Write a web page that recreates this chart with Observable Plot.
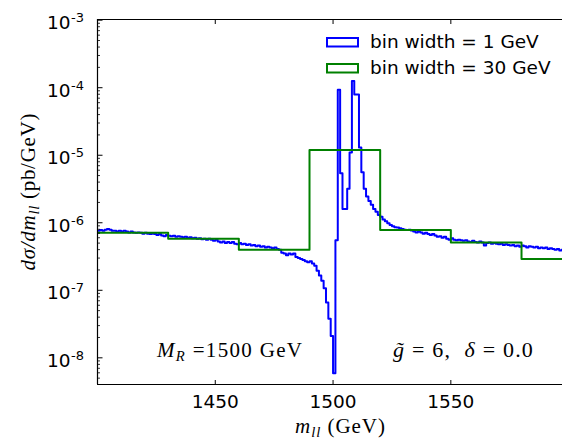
<!DOCTYPE html>
<html><head><meta charset="utf-8">
<script src="https://cdn.jsdelivr.net/npm/d3@7"></script>
<script src="https://cdn.jsdelivr.net/npm/@observablehq/plot@0.6"></script>
<style>html,body{margin:0;padding:0;background:#fff;}</style>
</head><body><div id="chart"></div>
<script>
// ---- data ----
const fineStart = 1400;      // first edge of the 1 GeV bins
const fineWidth = 1;
const fineValues = [
 7.6e-7,7.8e-7,7.6e-7,7.9e-7,8.1e-7,7.9e-7,7.6e-7,7.6e-7,7.4e-7,7.6e-7,
 7.4e-7,7.6e-7,7.4e-7,7.2e-7,7.4e-7,7.2e-7,7.1e-7,7.2e-7,7.1e-7,6.9e-7,
 7.1e-7,6.9e-7,6.8e-7,6.9e-7,6.8e-7,6.6e-7,6.8e-7,6.5e-7,6.3e-7,6.6e-7,
 6.4e-7,6.3e-7,6.4e-7,6.2e-7,6.3e-7,6.2e-7,6.1e-7,6.2e-7,6.0e-7,6.1e-7,
 5.9e-7,6.0e-7,5.8e-7,5.9e-7,5.7e-7,5.8e-7,5.6e-7,5.8e-7,5.6e-7,5.4e-7,
 5.6e-7,5.3e-7,5.1e-7,5.3e-7,5.0e-7,5.2e-7,5.0e-7,5.2e-7,4.9e-7,4.8e-7,
 5.0e-7,4.8e-7,4.9e-7,4.7e-7,4.8e-7,4.6e-7,4.7e-7,4.5e-7,4.6e-7,4.4e-7,
 4.5e-7,4.3e-7,4.4e-7,4.3e-7,4.2e-7,4.3e-7,4.1e-7,4.0e-7,3.6e-7,3.5e-7,
 3.3e-7,3.5e-7,3.4e-7,3.5e-7,3.1e-7,3.0e-7,2.9e-7,2.8e-7,2.7e-7,2.6e-7,
 2.7e-7,2.5e-7,2.3e-7,1.95e-7,1.65e-7,1.38e-7,1.07e-7,6.6e-8,3.8e-8,2.1e-8,
 5.9e-9,5.5e-7,9.3e-5,5.4e-6,1.6e-6,1.6e-6,3.2e-6,1.1e-5,1.26e-4,7.9e-5,
 7.9e-5,1.3e-5,5.6e-6,3.2e-6,2.45e-6,2.1e-6,1.85e-6,1.6e-6,1.45e-6,1.3e-6,
 1.23e-6,1.12e-6,1.05e-6,9.8e-7,9.3e-7,8.9e-7,8.6e-7,8.5e-7,8.3e-7,8.1e-7,
 7.9e-7,7.8e-7,7.9e-7,7.7e-7,7.4e-7,7.2e-7,7.4e-7,7.2e-7,6.9e-7,7.1e-7,
 6.8e-7,6.6e-7,6.8e-7,6.5e-7,6.2e-7,6.3e-7,6.0e-7,6.2e-7,5.8e-7,5.6e-7,
 5.9e-7,5.6e-7,5.5e-7,5.6e-7,5.5e-7,5.4e-7,5.5e-7,5.3e-7,5.2e-7,5.4e-7,
 5.2e-7,5.1e-7,5.3e-7,5.1e-7,4.6e-7,5.0e-7,5.1e-7,4.9e-7,5.0e-7,4.9e-7,
 4.8e-7,4.9e-7,4.7e-7,4.8e-7,4.7e-7,4.6e-7,4.7e-7,4.5e-7,4.6e-7,4.4e-7,
 4.6e-7,4.5e-7,4.3e-7,4.5e-7,4.4e-7,4.3e-7,4.4e-7,4.2e-7,4.3e-7,4.2e-7,
 4.3e-7,4.1e-7,4.2e-7,4.1e-7,4.0e-7,4.1e-7,3.9e-7,4.0e-7,3.9e-7,3.9e-7
];
const coarseEdges = [1400,1430,1460,1490,1520,1550,1580,1610];
const coarseValues = [7.1e-7,5.8e-7,4.0e-7,1.2e-5,7.8e-7,5.1e-7,2.9e-7];
const xTicks = [1450,1500,1550];
const yMajorTicks = [1e-8,1e-7,1e-6,1e-5,1e-4,1e-3];
const seriesLabels = ["bin width = 1 GeV","bin width = 30 GeV"];
const seriesColors = ["#0000ff","#008000"];

// ---- tables for the library ----
const fine = fineValues.map((v,i)=>({x: fineStart + i*fineWidth, y: v}));
fine.push({x: fineStart + fineValues.length*fineWidth, y: fineValues[fineValues.length-1]});
const coarse = coarseValues.map((v,i)=>({x: coarseEdges[i], y: v}));
coarse.push({x: coarseEdges[coarseEdges.length-1], y: coarseValues[coarseValues.length-1]});
const yMinorTicks = [];
for (let e=-9; e<=-3; e++) for (let m=2; m<=9; m++) yMinorTicks.push(m*Math.pow(10,e));

const W=562, H=441, mL=97, mT=19, mB=57, mR=0;
const xDomain=[1400,1597.4];
const yDomain=[Math.pow(10,-8.395), Math.pow(10,-2.99)];
const yMinorIn = yMinorTicks.filter(v=>v>yDomain[0] && v<yDomain[1]);

const tickSym = (dx,dy)=>({draw(ctx){ctx.moveTo(0,0); ctx.lineTo(dx,dy);}});

const plot = Plot.plot({
  width:W, height:H, marginLeft:mL, marginTop:mT, marginBottom:mB, marginRight:mR,
  x:{domain:xDomain, axis:null},
  y:{type:"log", domain:yDomain, axis:null},
  style:{fontFamily:"DejaVu Sans", background:"white", overflow:"visible"},
  marks:[
    Plot.line(fine, {x:"x", y:"y", curve:"step-after", stroke:seriesColors[0], strokeWidth:2, clip:true}),
    Plot.line(coarse, {x:"x", y:"y", curve:"step-after", stroke:seriesColors[1], strokeWidth:2, clip:true}),
    Plot.ruleX([xDomain[0]], {stroke:"black", strokeWidth:1.2}),
    Plot.ruleY(yDomain, {stroke:"black", strokeWidth:1.2}),
    Plot.dot(yMajorTicks, {y:d=>d, frameAnchor:"left", symbol:tickSym(5,0), r:3, stroke:"black", fill:"none", strokeWidth:1}),
    Plot.dot(yMinorIn, {y:d=>d, frameAnchor:"left", symbol:tickSym(2.5,0), r:3, stroke:"black", fill:"none", strokeWidth:0.8}),
    Plot.dot(xTicks, {x:d=>d, frameAnchor:"bottom", symbol:tickSym(0,-4.5), r:3, stroke:"black", fill:"none", strokeWidth:1}),
    Plot.dot(xTicks, {x:d=>d, frameAnchor:"top", symbol:tickSym(0,4.5), r:3, stroke:"black", fill:"none", strokeWidth:1}),
    Plot.text(xTicks, {x:d=>d, frameAnchor:"bottom", text:d=>String(d), lineAnchor:"bottom", dy:23, fontSize:18.5, fill:"black"}),
    Plot.text(yMajorTicks, {y:d=>d, frameAnchor:"left", text:()=>"10", textAnchor:"end", lineAnchor:"bottom", dx:-27, dy:9, fontSize:18.5, fill:"black"}),
    Plot.text(yMajorTicks, {y:d=>d, frameAnchor:"left", text:d=>"-"+Math.round(-Math.log10(d)), textAnchor:"start", lineAnchor:"bottom", dx:-26.5, dy:2, fontSize:13, fill:"black"})
  ]
});
document.getElementById("chart").appendChild(plot);

// ---- text with math-style pieces, legend ----
const svg = d3.select(plot);
function mathText(x, y, parts, opts={}) {
  const size = opts.size||20;
  const t = svg.append("text").attr("x",x).attr("y",y)
    .attr("font-family","Liberation Serif").attr("font-size",size)
    .attr("text-anchor",opts.anchor||"start").attr("fill","black");
  if (opts.transform) t.attr("transform",opts.transform);
  if (opts.length) t.attr("textLength",opts.length).attr("lengthAdjust","spacing");
  if (opts.spacing) t.attr("letter-spacing",opts.spacing);
  let cur = 0;
  parts.forEach(p=>{
    const ts = t.append("tspan").text(p.t);
    if (p.i) ts.attr("font-style","italic");
    const target = p.sub ? 4 : 0;
    if (target!==cur) { ts.attr("dy", target-cur); cur = target; }
    if (p.sub) ts.attr("font-size",size*0.7);
  });
  return t;
}
mathText(340, 433, [{t:"m",i:1},{t:"ll",i:1,sub:1},{t:" (GeV)"}], {anchor:"middle", size:21, length:90});
mathText(0, 0, [{t:"dσ/dm",i:1},{t:"ll",i:1,sub:1},{t:" (pb/GeV)"}], {anchor:"middle", size:21, length:157, transform:"translate(35,192) rotate(-90)"});
mathText(157, 357, [{t:"M",i:1},{t:"R",i:1,sub:1},{t:" =1500 GeV"}], {size:21, length:145});
mathText(393, 357, [{t:"g\u0303",i:1},{t:" = 6,  "},{t:"δ",i:1},{t:" = 0.0"}], {size:22, spacing:1.2});

seriesLabels.forEach((lab,i)=>{
  const yb = 47.5 + i*26;
  svg.append("rect").attr("x",327).attr("y",yb-9.5).attr("width",31).attr("height",8.5)
    .attr("fill","none").attr("stroke",seriesColors[i]).attr("stroke-width",2);
  svg.append("text").attr("x",370).attr("y",yb).attr("font-family","DejaVu Sans")
    .attr("text-anchor","start").attr("font-size",18.5).attr("fill","black").text(lab);
});
</script>
</body></html>
